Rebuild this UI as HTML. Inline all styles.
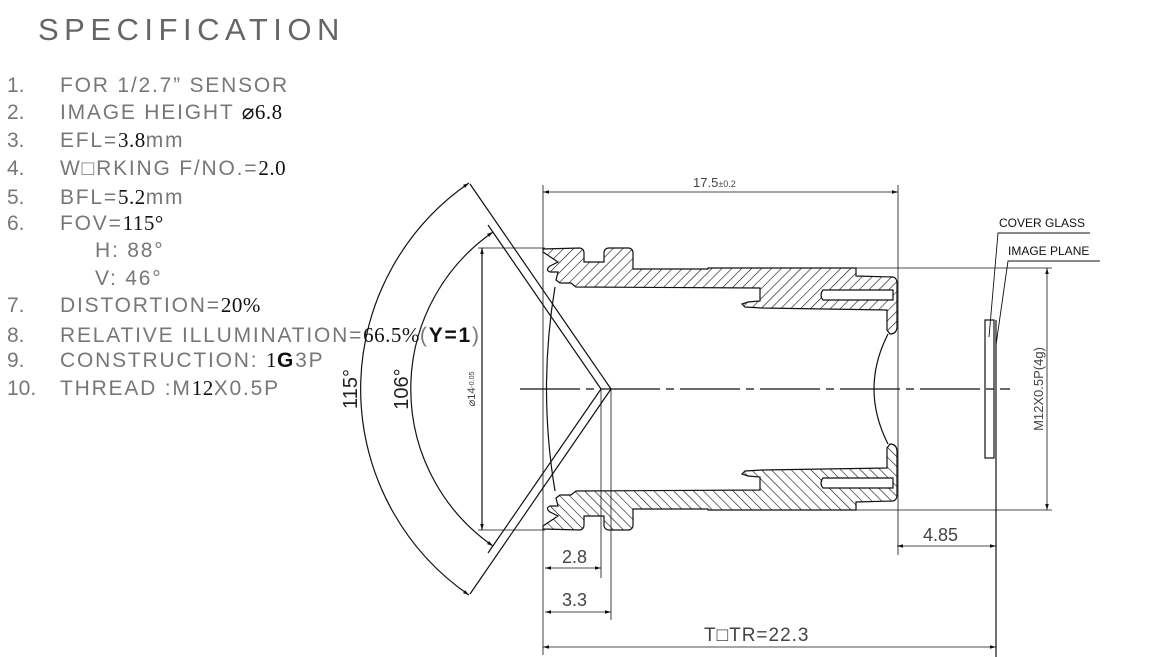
<!DOCTYPE html>
<html><head><meta charset="utf-8"><style>
html,body{margin:0;padding:0;background:#fff;}
svg{display:block;}
.t{font-family:"Liberation Sans",sans-serif;fill:#777;font-size:21px;}
.ls{letter-spacing:1.8px;}
.s{font-family:"Liberation Serif",serif;fill:#111;letter-spacing:0.5px;}
.b{font-family:"Liberation Sans",sans-serif;fill:#111;font-weight:bold;}
.a{font-family:"Liberation Sans",sans-serif;fill:#111;}
</style></head><body>
<svg width="1170" height="657" viewBox="0 0 1170 657" xmlns="http://www.w3.org/2000/svg">
<defs>
<pattern id="h" patternUnits="userSpaceOnUse" width="7" height="7" patternTransform="rotate(45)">
<rect width="7" height="7" fill="#fff"/><line x1="0" y1="0" x2="0" y2="7" stroke="#111" stroke-width="1.2"/>
</pattern>
<marker id="ar" viewBox="0 0 10 10" refX="10" refY="5" markerWidth="10" markerHeight="6" orient="auto-start-reverse" markerUnits="userSpaceOnUse"><path d="M0,2 L10,5 L0,8 z" fill="#111"/></marker>
</defs>
<text x="38" y="40" class="t" style="font-size:31px;fill:#666;letter-spacing:5.5px">SPECIFICATION</text>
<g class="t">
<text x="7" y="92">1.</text><text x="60" y="92" class="ls">FOR 1/2.7” SENSOR</text>
<text x="7" y="119">2.</text><text x="60" y="119" class="ls">IMAGE HEIGHT   <tspan class="s">⌀6.8</tspan></text>
<text x="7" y="147">3.</text><text x="60" y="147" class="ls">EFL=<tspan class="s">3.8</tspan>mm</text>
<text x="7" y="175">4.</text><text x="60" y="175" class="ls">W□RKING F/NO.=<tspan class="s">2.0</tspan></text>
<text x="7" y="204">5.</text><text x="60" y="204" class="ls">BFL=<tspan class="s">5.2</tspan>mm</text>
<text x="7" y="230">6.</text><text x="60" y="230" class="ls">FOV=<tspan class="s">115°</tspan></text>
<text x="95" y="257" class="ls">H: 88°</text>
<text x="95" y="285" class="ls">V: 46°</text>
<text x="7" y="312">7.</text><text x="60" y="312" class="ls">DISTORTION=<tspan class="s">20%</tspan></text>
<text x="7" y="342">8.</text><text x="60" y="342" class="ls">RELATIVE ILLUMINATION=<tspan class="s">66.5%</tspan>(<tspan class="b">Y=1</tspan>)</text>
<text x="7" y="367">9.</text><text x="60" y="367" class="ls">CONSTRUCTION:  <tspan class="s">1</tspan><tspan class="b">G</tspan>3P</text>
<text x="7" y="395">10.</text><text x="60" y="395" class="ls">THREAD :M<tspan class="s">12</tspan>X0.5P</text>
</g>
<g stroke="#111" stroke-width="1.2" fill="none">
<line x1="611" y1="389" x2="470" y2="184"/><line x1="611" y1="389" x2="470" y2="594"/>
<line x1="601" y1="389" x2="488" y2="225"/><line x1="601" y1="389" x2="488" y2="553"/>
<path d="M469,183 A250,250 0 0 0 469,595" marker-start="url(#ar)" marker-end="url(#ar)"/>
<path d="M493,232 A191,191 0 0 0 493,546" marker-start="url(#ar)" marker-end="url(#ar)"/>
<line x1="478" y1="248" x2="545" y2="248" stroke-width="0.8"/><line x1="478" y1="530" x2="545" y2="530" stroke-width="0.8"/>
<line x1="482" y1="248" x2="482" y2="530" marker-start="url(#ar)" marker-end="url(#ar)"/>
<line x1="520" y1="389" x2="1010" y2="389" stroke-dasharray="60,6,8,6"/>
<g fill="url(#h)">
<path d="M543,252 L543,249 L580,248 Q584,249 584,253 L584,262 L604,262 L604,252 Q605,248 609,248 L629,248 Q633,249 633,253 L633,269 L708,269 L708,268 L856,268 L856,276 L893,277 Q897,278 897,283 L897,328 Q896,334 890,334 L887,330 L887,310 L762,308 L745,307 L742,304 L748,302 L760,301 L760,288 L576,287 L571,283 L560,283 L556,280 L558,272 L550,272 Q545,270 550,266 L558,262 Z"/>
<path d="M823,290 Q819,295 823,300 L893,300 L893,290 Z" fill="#fff"/>
<g transform="matrix(1,0,0,-1,0,778)">
<path d="M543,252 L543,249 L580,248 Q584,249 584,253 L584,262 L604,262 L604,252 Q605,248 609,248 L629,248 Q633,249 633,253 L633,269 L708,269 L708,268 L856,268 L856,276 L893,277 Q897,278 897,283 L897,328 Q896,334 890,334 L887,330 L887,310 L762,308 L745,307 L742,304 L748,302 L760,301 L760,288 L576,287 L571,283 L560,283 L556,280 L558,272 L550,272 Q545,270 550,266 L558,262 Z"/>
<path d="M823,290 Q819,295 823,300 L893,300 L893,290 Z" fill="#fff"/>
</g>
</g>
<path d="M555,287 Q538,389 555,491"/>
<path d="M888,334 Q860,389 888,444"/>
<line x1="543" y1="185" x2="543" y2="655" stroke-width="0.8"/>
<line x1="898" y1="185" x2="898" y2="555" stroke-width="0.8"/>
<line x1="543" y1="192" x2="898" y2="192" stroke-width="0.8" marker-start="url(#ar)" marker-end="url(#ar)"/>
<line x1="601" y1="389" x2="601" y2="578" stroke-width="0.8"/>
<line x1="611" y1="389" x2="611" y2="620" stroke-width="0.8"/>
<line x1="545" y1="568" x2="601" y2="568" stroke-width="0.8" marker-start="url(#ar)" marker-end="url(#ar)"/>
<line x1="545" y1="612" x2="611" y2="612" stroke-width="0.8" marker-start="url(#ar)" marker-end="url(#ar)"/>
<line x1="543" y1="647" x2="996" y2="647" stroke-width="0.8" marker-start="url(#ar)" marker-end="url(#ar)"/>
<line x1="897" y1="546" x2="996" y2="546" stroke-width="0.8" marker-start="url(#ar)" marker-end="url(#ar)"/>
<line x1="856" y1="268" x2="1052" y2="268" stroke-width="0.8"/>
<line x1="856" y1="510" x2="1052" y2="510" stroke-width="0.8"/>
<line x1="1047" y1="268" x2="1047" y2="510" stroke-width="0.8" marker-start="url(#ar)" marker-end="url(#ar)"/>
<rect x="985" y="320" width="9" height="138"/>
<line x1="996" y1="320" x2="996" y2="657"/>
<polyline points="989,337 998,233 1090,233" stroke-width="0.9"/>
<polyline points="996,345 1008,261 1100,261" stroke-width="0.9"/>
</g>
<g class="a">
<text x="999" y="227" style="font-size:12px">COVER GLASS</text>
<text x="1008" y="255" style="font-size:12px">IMAGE PLANE</text>
</g>
<g class="t" style="fill:#444">
<text x="693" y="187" style="font-size:13px">17.5<tspan style="font-size:9px">±0.2</tspan></text>
<text x="562" y="563" style="font-size:18px">2.8</text>
<text x="562" y="606" style="font-size:18px">3.3</text>
<text x="704" y="641" style="font-size:19px;letter-spacing:1px">T□TR=22.3</text>
<text x="923" y="541" style="font-size:18px">4.85</text>
<text transform="translate(357,389) rotate(-90)" text-anchor="middle" style="font-size:20px;fill:#222">115°</text>
<text transform="translate(408,389) rotate(-90)" text-anchor="middle" style="font-size:20px;fill:#222">106°</text>
<text transform="translate(475,389) rotate(-90)" text-anchor="middle" style="font-size:11px">⌀14<tspan dy="-1" style="font-size:7px">-0.05</tspan></text>
<text transform="translate(1043,389) rotate(-90)" text-anchor="middle" style="font-size:13px">M12X0.5P(4g)</text>
</g>
</svg>
</body></html>
